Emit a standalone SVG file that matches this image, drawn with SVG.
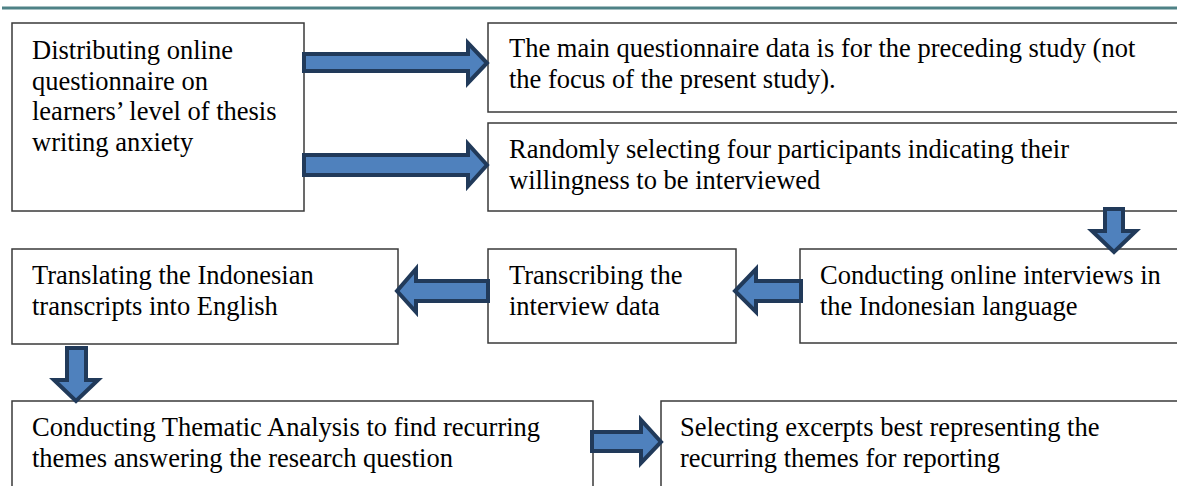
<svg xmlns="http://www.w3.org/2000/svg" width="1177" height="486" viewBox="0 0 1177 486">
<style>
.box{fill:#fff;stroke:#3a3a3a;stroke-width:1.5}
.arr{fill:#4f81bd;stroke:#213a5a;stroke-width:4;stroke-linejoin:miter}
text{font-family:"Liberation Serif","Times New Roman",serif;font-size:26.5px;fill:#000}
</style>
<rect x="0" y="0" width="1177" height="486" fill="#fff"/>
<line x1="2" y1="8" x2="1177" y2="8" stroke="#4e8286" stroke-width="3"/>
<g id="n1"><rect class="box" x="12" y="23" width="292" height="188"/>
<text x="32" y="59">Distributing online</text><text x="32" y="89.5">questionnaire on</text><text x="32" y="120">learners’ level of thesis</text><text x="32" y="150.5">writing anxiety</text></g>
<g id="n2"><rect class="box" x="488" y="23" width="700" height="89"/>
<text x="509" y="57">The main questionnaire data is for the preceding study (not</text><text x="509" y="87.5">the focus of the present study).</text></g>
<g id="n3"><rect class="box" x="488" y="123" width="700" height="88"/>
<text x="509" y="158">Randomly selecting four participants indicating their</text><text x="509" y="188.5">willingness to be interviewed</text></g>
<g id="n4"><rect class="box" x="800" y="249" width="388" height="94"/>
<text x="820" y="284">Conducting online interviews in</text><text x="820" y="314.5">the Indonesian language</text></g>
<g id="n5"><rect class="box" x="488" y="249" width="248" height="94"/>
<text x="509" y="284">Transcribing the</text><text x="509" y="314.5">interview data</text></g>
<g id="n6"><rect class="box" x="12" y="249" width="386" height="95"/>
<text x="32" y="284">Translating the Indonesian</text><text x="32" y="314.5">transcripts into English</text></g>
<g id="n7"><rect class="box" x="12" y="401" width="581" height="100"/>
<text x="32" y="436">Conducting Thematic Analysis to find recurring</text><text x="32" y="466.5">themes answering the research question</text></g>
<g id="n8"><rect class="box" x="661" y="401" width="527" height="100"/>
<text x="680" y="436">Selecting excerpts best representing the</text><text x="680" y="466.5">recurring themes for reporting</text></g>
<g id="connectors">
<polygon class="arr" points="304,54 468,54 468,43 487,63 468,83 468,71 304,71"/>
<polygon class="arr" points="304,155 468,155 468,144 487,165 468,186 468,175 304,175"/>
<polygon class="arr" points="1105,209 1123,209 1123,231 1136,231 1114,252 1092,231 1105,231"/>
<polygon class="arr" points="801,281 756,281 756,269 735,291 756,312 756,301 801,301"/>
<polygon class="arr" points="488,281 416,281 416,269 397,291 416,312 416,301 488,301"/>
<polygon class="arr" points="67,348 86,348 86,380 98,380 76,401 54,380 67,380"/>
<polygon class="arr" points="592,432 641,432 641,420 661,442 641,463 641,451 592,451"/>
</g>
</svg>
